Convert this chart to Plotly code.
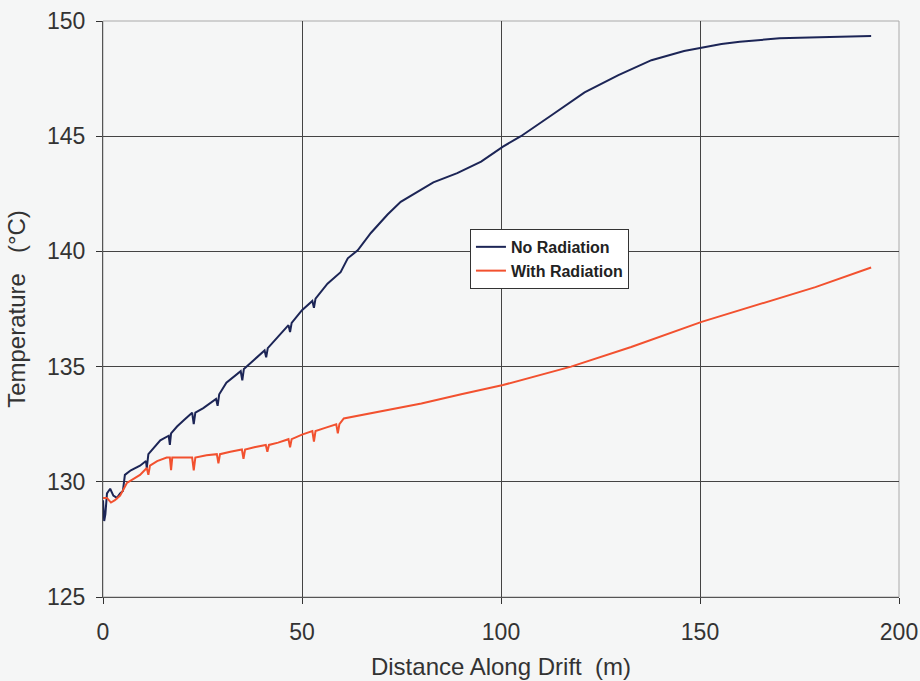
import plotly.graph_objects as go

# Distance along drift (m) and temperature (°C), no radiation case
dist_norad = [0.0, 0.3, 0.6, 1.0, 1.8, 2.6, 3.5, 4.3, 5.0, 5.5, 7.0, 9.3, 10.8, 11.0, 11.4, 13.0,
              14.4, 16.5, 16.8, 17.1, 18.6, 20.5, 22.4, 22.8, 23.2, 25.2, 28.4, 28.8, 29.2, 31.0,
              34.6, 35.0, 35.4, 38.0, 40.6, 41.0, 41.4, 44.0, 46.6, 47.0, 47.4, 50.0, 52.6, 53.0,
              53.4, 56.4, 59.7, 61.5, 64.0, 67.3, 71.5, 74.8, 79.0, 83.0, 89.0, 95.0, 100.5,
              105.0, 112.6, 121.0, 129.5, 137.8, 146.0, 151.0, 155.4, 160.0, 170.0, 180.0, 193.0]
temp_norad = [129.2, 128.3, 128.6, 129.5, 129.7, 129.4, 129.3, 129.5, 129.6, 130.3, 130.5, 130.7,
              130.9, 130.6, 131.2, 131.5, 131.8, 132.0, 131.6, 132.1, 132.4, 132.7, 133.0, 132.5,
              133.0, 133.2, 133.6, 133.3, 133.8, 134.3, 134.8, 134.4, 134.9, 135.3, 135.7, 135.4,
              135.8, 136.3, 136.8, 136.5, 136.9, 137.45, 137.85, 137.55, 137.95, 138.6, 139.1,
              139.7, 140.05, 140.8, 141.6, 142.15, 142.6, 143.0, 143.4, 143.9, 144.55, 145.0,
              145.9, 146.9, 147.65, 148.3, 148.7, 148.87, 149.0, 149.1, 149.25, 149.3, 149.35]

# Distance along drift (m) and temperature (°C), with radiation case
dist_rad = [0.0, 1.0, 2.0, 3.0, 4.3, 6.0, 9.3, 11.0, 11.4, 11.8, 13.6, 16.0, 16.8, 17.1, 17.4,
            20.0, 22.4, 22.8, 23.2, 26.0, 28.6, 29.0, 29.4, 32.0, 34.9, 35.3, 35.7, 38.0, 40.9,
            41.3, 41.7, 44.0, 46.6, 47.0, 47.4, 50.0, 52.6, 53.0, 53.4, 56.0, 58.6, 59.0, 59.4,
            60.5, 65.0, 70.0, 80.0, 90.0, 95.0, 100.5, 117.6, 132.7, 150.4, 162.0, 179.0, 193.0]
temp_rad = [129.3, 129.3, 129.1, 129.2, 129.4, 129.95, 130.3, 130.6, 130.3, 130.7, 130.9, 131.05,
            131.05, 130.5, 131.05, 131.05, 131.05, 130.5, 131.05, 131.15, 131.2, 130.8, 131.2,
            131.3, 131.4, 131.0, 131.4, 131.5, 131.6, 131.3, 131.6, 131.7, 131.85, 131.5, 131.85,
            132.05, 132.2, 131.75, 132.2, 132.35, 132.5, 132.1, 132.5, 132.75, 132.9, 133.05,
            133.4, 133.8, 134.0, 134.2, 135.0, 135.85, 136.94, 137.55, 138.45, 139.3]

x_ticks = [0, 50, 100, 150, 200]
y_ticks = [125, 130, 135, 140, 145, 150]

fig = go.Figure()
fig.add_trace(go.Scatter(x=dist_norad, y=temp_norad, mode="lines", name="No Radiation",
                         line=dict(color="#1c2556", width=2)))
fig.add_trace(go.Scatter(x=dist_rad, y=temp_rad, mode="lines", name="With Radiation",
                         line=dict(color="#f2512f", width=2)))

FONT = "Liberation Sans, Arial, sans-serif"
tick_font = dict(family=FONT, size=23, color="#333333")
title_font = dict(family=FONT, size=24, color="#333333")
NB = "\u00a0"

fig.update_layout(
    width=920, height=681,
    margin=dict(l=103, r=21, t=21, b=84),
    paper_bgcolor="#f5f6f6",
    plot_bgcolor="#f5f6f6",
    font=tick_font,
    showlegend=True,
    legend=dict(x=0.461, y=0.639, xanchor="left", yanchor="top",
                bgcolor="#ffffff", bordercolor="#333333", borderwidth=1,
                font=dict(family=FONT, size=16, color="#222222", weight="bold"),
                itemwidth=30, tracegroupgap=0),
    xaxis=dict(range=[0, 200], tickvals=x_ticks, showgrid=True, gridcolor="#444444", gridwidth=1,
               showline=True, linecolor="#555555", linewidth=1, mirror=False,
               ticks="outside", ticklen=6, tickcolor="#333333", zeroline=False,
               tickfont=tick_font, ticklabelstandoff=8, automargin=False,
               title=dict(text=f"Distance Along Drift{NB}{NB}(m)", font=title_font, standoff=14)),
    yaxis=dict(range=[125, 150], tickvals=y_ticks, showgrid=True, gridcolor="#444444", gridwidth=1,
               showline=True, linecolor="#555555", linewidth=1, mirror=False,
               ticks="outside", ticklen=6, tickcolor="#333333", zeroline=False,
               tickfont=tick_font, ticklabelstandoff=6, automargin=False,
               title=dict(text=f"Temperature{NB}{NB}{NB}(°C)", font=title_font, standoff=14)),
)

# light frame on top and right edges of the plotting area
fig.add_shape(type="rect", xref="paper", yref="paper", x0=0, y0=0, x1=1, y1=1,
              line=dict(color="#aaaaaa", width=1), layer="below")

fig.write_html("out.html")
